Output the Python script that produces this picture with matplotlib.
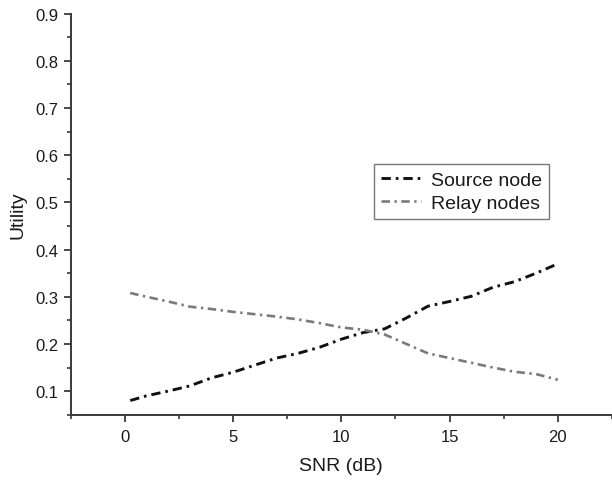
import matplotlib
matplotlib.use("Agg")
import matplotlib.pyplot as plt
from matplotlib.ticker import MultipleLocator

plt.rcParams['font.family'] = ['Liberation Sans', 'DejaVu Sans']

snr = [0.25, 1, 2, 3, 4, 5, 6, 7, 8, 9, 10, 11, 12, 13, 14, 15, 16, 17, 18, 19, 20]
source_node = [0.080, 0.090, 0.100, 0.111, 0.128, 0.140, 0.155, 0.170, 0.180, 0.193, 0.210, 0.224, 0.232, 0.255, 0.280, 0.290, 0.301, 0.320, 0.332, 0.350, 0.370]
relay_nodes = [0.308, 0.300, 0.290, 0.279, 0.274, 0.268, 0.263, 0.258, 0.252, 0.244, 0.235, 0.230, 0.220, 0.200, 0.180, 0.170, 0.160, 0.150, 0.141, 0.136, 0.124]

xticks = [0, 5, 10, 15, 20]
yticks = [0.1, 0.2, 0.3, 0.4, 0.5, 0.6, 0.7, 0.8, 0.9]

fig = plt.figure(figsize=(6.12, 4.81), dpi=100)
ax = fig.add_axes([70.7 / 612, 1 - 415.7 / 481, 1 - 70.7 / 612, (415.7 - 14.7) / 481])

ax.plot(snr, source_node, color='#111111', lw=2.1, linestyle=(0, (3.2, 1.7, 0.9, 1.7)),
        label='Source node')
ax.plot(snr, relay_nodes, color='#7a7a7a', lw=1.9, linestyle=(0, (3.2, 1.7, 0.9, 1.7)),
        label='Relay nodes')

ax.set_xlim(-2.5, 22.5)
ax.set_ylim(0.05, 0.9)
ax.set_xticks(xticks)
ax.set_xticklabels([str(t) for t in xticks])
ax.set_yticks(yticks)
ax.set_yticklabels([f"{t:.1f}" for t in yticks])
ax.xaxis.set_minor_locator(MultipleLocator(2.5))
ax.yaxis.set_minor_locator(MultipleLocator(0.05))

for s in ['top', 'right']:
    ax.spines[s].set_visible(False)
for s in ['left', 'bottom']:
    ax.spines[s].set_color('#3a3a3a')
    ax.spines[s].set_linewidth(1.4)

ax.tick_params(which='major', direction='out', length=5, width=1.3, color='#3a3a3a',
               labelsize=12, pad=4, labelcolor='#1a1a1a')
ax.tick_params(axis='x', which='major', pad=5.5)
ax.tick_params(which='minor', direction='out', length=3, width=1.2, color='#3a3a3a')

ax.set_xlabel('SNR (dB)', fontsize=14, color='#1a1a1a', labelpad=9.5)
ax.set_ylabel('Utility', fontsize=14, color='#1a1a1a', labelpad=6)

leg = ax.legend(loc='upper left', bbox_to_anchor=(374 / 612, 1 - 165 / 481),
                bbox_transform=fig.transFigure, fontsize=14, frameon=True,
                fancybox=False, handlelength=2.06, handletextpad=0.5,
                borderpad=0.36, labelspacing=0.28, borderaxespad=0)
leg.get_frame().set_edgecolor('#555555')
leg.get_frame().set_linewidth(1.0)
for t in leg.get_texts():
    t.set_color('#1a1a1a')

fig.savefig('out.png', dpi=100)
